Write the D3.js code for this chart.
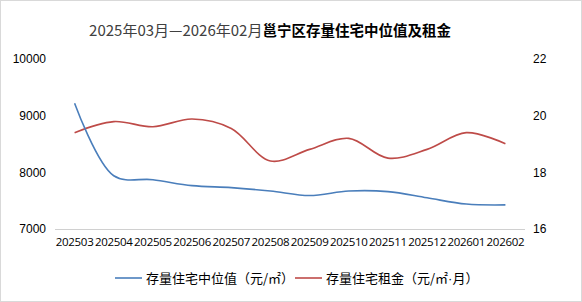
<!DOCTYPE html>
<html>
<head>
<meta charset="utf-8">
<script src="https://cdn.jsdelivr.net/npm/d3@7"></script>
<style>
  body { margin: 0; background: #fff; }
  svg { display: block; }
</style>
</head>
<body>
<div id="chart"></div>
<script>
// data
const months = ["202503", "202504", "202505", "202506", "202507", "202508",
                "202509", "202510", "202511", "202512", "202601", "202602"];
const medianPrice = [9220, 7940, 7870, 7765, 7730, 7670, 7590, 7670, 7660, 7550, 7440, 7425];
const rentPrice = [19.40, 19.79, 19.61, 19.88, 19.55, 18.40, 18.81, 19.20, 18.50, 18.81, 19.40, 19.01];
const leftTicks = [7000, 8000, 9000, 10000];
const rightTicks = [16, 18, 20, 22];

const width = 582, height = 302;
const margin = { top: 59, right: 57, bottom: 73, left: 55 };
const blue = "#4a7ebb", red = "#be4b48";

const svg = d3.select("#chart").append("svg")
    .attr("width", width)
    .attr("height", height);

// outer border
svg.append("rect")
    .attr("x", 0.5).attr("y", 0.5)
    .attr("width", width - 1).attr("height", height - 1)
    .attr("fill", "#fff")
    .attr("stroke", "#d9d9d9");

// title
const title = svg.append("text")
    .attr("x", 270)
    .attr("y", 36)
    .attr("text-anchor", "middle")
    .style("font-size", "14.5px");
title.append("tspan")
    .attr("fill", "#404040")
    .style("font-family", "'Liberation Sans Narrow', 'Noto Sans CJK SC', sans-serif")
    .style("font-size", "15px")
    .text("2025年03月—2026年02月");
title.append("tspan")
    .attr("fill", "#000")
    .style("font-weight", "bold")
    .style("font-family", "'Noto Sans CJK SC', sans-serif")
    .text("邕宁区存量住宅中位值及租金");

// scales
const x = d3.scaleBand()
    .domain(months)
    .range([margin.left, width - margin.right]);

const yL = d3.scaleLinear()
    .domain([7000, 10000])
    .range([height - margin.bottom, margin.top]);

const yR = d3.scaleLinear()
    .domain([16, 22])
    .range([height - margin.bottom, margin.top]);

// baseline
svg.append("line")
    .attr("x1", margin.left).attr("x2", width - margin.right)
    .attr("y1", yL(7000) + 0.5).attr("y2", yL(7000) + 0.5)
    .attr("stroke", "#d0d0d0");

// left axis labels
svg.selectAll(".ltick")
    .data(leftTicks)
    .enter().append("text")
    .attr("class", "ltick")
    .attr("x", 46)
    .attr("y", d => yL(d))
    .attr("dy", "0.35em")
    .attr("text-anchor", "end")
    .attr("fill", "#000")
    .style("font-family", "'Liberation Sans', sans-serif")
    .style("font-size", "12px")
    .text(d => d);

// right axis labels
svg.selectAll(".rtick")
    .data(rightTicks)
    .enter().append("text")
    .attr("class", "rtick")
    .attr("x", 533)
    .attr("y", d => yR(d))
    .attr("dy", "0.35em")
    .attr("fill", "#000")
    .style("font-family", "'Liberation Sans', sans-serif")
    .style("font-size", "12px")
    .text(d => d);

// x labels
svg.selectAll(".xlab")
    .data(months)
    .enter().append("text")
    .attr("class", "xlab")
    .attr("x", d => x(d) + x.bandwidth() / 2)
    .attr("y", 246)
    .attr("text-anchor", "middle")
    .attr("fill", "#000")
    .style("font-family", "'Open Sans', 'DejaVu Sans', sans-serif")
    .style("font-size", "11.5px")
    .style("letter-spacing", "-0.3px")
    .text(d => d);

// lines
const cx = i => x(months[i]) + x.bandwidth() / 2;

const lineL = d3.line()
    .x((d, i) => cx(i))
    .y(d => yL(d))
    .curve(d3.curveCatmullRom.alpha(0.5));

const lineR = d3.line()
    .x((d, i) => cx(i))
    .y(d => yR(d))
    .curve(d3.curveCatmullRom.alpha(0.5));

svg.append("path")
    .datum(rentPrice)
    .attr("d", lineR)
    .attr("fill", "none")
    .attr("stroke", red)
    .attr("stroke-width", 1.6);

svg.append("path")
    .datum(medianPrice)
    .attr("d", lineL)
    .attr("fill", "none")
    .attr("stroke", blue)
    .attr("stroke-width", 1.6);

// legend
const legend = [
    { label: ["存量住宅中位值（元/㎡）"], color: blue, x: 115 },
    { label: ["存量住宅租金（元/㎡", "·", "月）"], color: red, x: 295 }
];
const lg = svg.selectAll(".lg")
    .data(legend)
    .enter().append("g")
    .attr("class", "lg")
    .attr("transform", d => `translate(${d.x},278)`);
lg.append("line")
    .attr("x1", 0).attr("x2", 27)
    .attr("stroke", d => d.color)
    .attr("stroke-width", 1.6);
lg.append("text")
    .attr("x", 31)
    .attr("dy", "0.35em")
    .attr("fill", "#000")
    .style("font-family", "'Noto Sans CJK SC', sans-serif")
    .style("font-size", "13px")
    .selectAll("tspan")
    .data(d => d.label)
    .enter().append("tspan")
    .style("font-family", t => t === "·" ? "'Liberation Sans', sans-serif" : null)
    .text(t => t);
</script>
</body>
</html>
